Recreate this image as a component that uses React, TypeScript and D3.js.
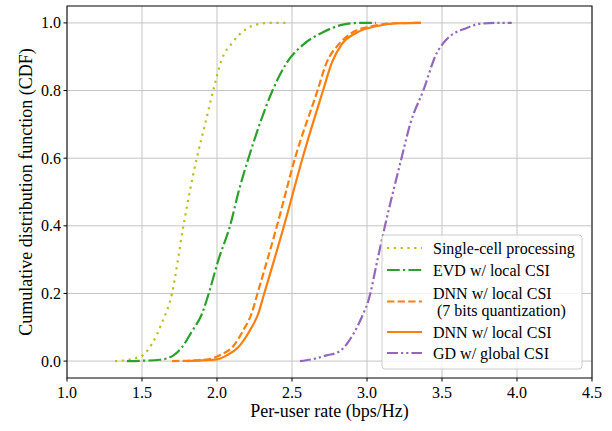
import React from "react";
import * as d3 from "d3";

const xTicks = [1.0, 1.5, 2.0, 2.5, 3.0, 3.5, 4.0, 4.5];
const yTicks = [0.0, 0.2, 0.4, 0.6, 0.8, 1.0];

const singleRate = [1.32, 1.40, 1.45, 1.505, 1.565, 1.63, 1.70, 1.776, 1.865, 1.92, 1.975, 2.03, 2.10, 2.175, 2.26, 2.35, 2.465];
const singleCdf = [0, 0.003, 0.008, 0.017, 0.05, 0.11, 0.2, 0.4, 0.6, 0.7, 0.8, 0.89, 0.94, 0.976, 0.995, 1.0, 1.0];

const evdRate = [1.40, 1.50, 1.62, 1.71, 1.765, 1.83, 1.90, 1.945, 2.01, 2.087, 2.147, 2.21, 2.287, 2.37, 2.465, 2.575, 2.70, 2.84, 2.95, 3.06];
const evdCdf = [0, 0.001, 0.004, 0.017, 0.04, 0.086, 0.14, 0.2, 0.3, 0.4, 0.506, 0.6, 0.704, 0.8, 0.882, 0.936, 0.971, 0.995, 1.0, 1.0];

const dnnQRate = [1.70, 1.85, 1.95, 2.03, 2.10, 2.175, 2.23, 2.27, 2.40, 2.52, 2.67, 2.73, 2.81, 2.90, 3.03, 3.20, 3.36];
const dnnQCdf = [0, 0.002, 0.006, 0.02, 0.04, 0.091, 0.14, 0.2, 0.4, 0.6, 0.8, 0.882, 0.936, 0.971, 0.99, 0.999, 1.0];

const dnnRate = [1.80, 1.90, 2.0, 2.065, 2.14, 2.22, 2.275, 2.315, 2.447, 2.57, 2.707, 2.765, 2.83, 2.93, 3.06, 3.20, 3.36];
const dnnCdf = [0, 0.002, 0.005, 0.017, 0.04, 0.091, 0.14, 0.2, 0.4, 0.6, 0.8, 0.882, 0.936, 0.971, 0.99, 0.999, 1.0];

const gdRate = [2.553, 2.65, 2.73, 2.81, 2.91, 2.975, 3.01, 3.07, 3.12, 3.23, 3.29, 3.375, 3.465, 3.53, 3.665, 3.75, 3.85, 3.965];
const gdCdf = [0, 0.007, 0.017, 0.027, 0.081, 0.14, 0.18, 0.3, 0.4, 0.6, 0.704, 0.8, 0.911, 0.951, 0.985, 0.997, 1.0, 1.0];

const seriesNames = [
  ["Single-cell processing"],
  ["EVD w/ local CSI"],
  ["DNN w/ local CSI", " (7 bits quantization)"],
  ["DNN w/ local CSI"],
  ["GD w/ global CSI"],
];

const series = [
  { rate: singleRate, cdf: singleCdf, color: "#bcbd22", dash: "2.2,4.6" },
  { rate: evdRate, cdf: evdCdf, color: "#2ca02c", dash: "12.8,3.2,2.2,3.2" },
  { rate: dnnQRate, cdf: dnnQCdf, color: "#ff7f0e", dash: "7.4,3.2" },
  { rate: dnnRate, cdf: dnnCdf, color: "#ff7f0e", dash: "none" },
  { rate: gdRate, cdf: gdCdf, color: "#9467bd", dash: "11,3,2.2,3,2.2,3" },
];

const W = 612, H = 431;
const L = 67, R = 592, T = 6, B = 378;
const font = "Liberation Serif";

export default function App() {
  const x = d3.scaleLinear().domain([1.0, 4.5]).range([L, R]);
  const y = d3.scaleLinear().domain([-0.05, 1.05]).range([B, T]);
  const line = d3
    .line<[number, number]>()
    .x((d) => x(d[0]))
    .y((d) => y(d[1]))
    .curve(d3.curveMonotoneX);

  const legX = 382, legY = 235, legW = 200, legH = 134;
  const entryY = [248, 270, 301.5, 332, 353];
  const textLines = [[248], [270], [293, 310], [332], [353]];
  const ts = { fontFamily: font } as React.CSSProperties;

  return (
    <div style={{ position: "absolute", left: 0, top: 0 }}>
      <svg width={W} height={H} style={{ display: "block", background: "#fff", fontFamily: font }}>
        <rect x={0} y={0} width={W} height={H} fill="#fff" />
        <g>
          {xTicks.map((t) => (
            <line key={"gx" + t} x1={x(t)} x2={x(t)} y1={T} y2={B} stroke="#c4c4c4" strokeWidth={1} />
          ))}
          {yTicks.map((t) => (
            <line key={"gy" + t} x1={L} x2={R} y1={y(t)} y2={y(t)} stroke="#c4c4c4" strokeWidth={1} />
          ))}
        </g>
        <defs>
          <clipPath id="plotclip">
            <rect x={L} y={T} width={R - L} height={B - T} />
          </clipPath>
        </defs>
        <g clipPath="url(#plotclip)">
          {series.map((s, i) => (
            <path
              key={i}
              d={line(s.rate.map((r, j) => [r, s.cdf[j]] as [number, number])) || ""}
              fill="none"
              stroke={s.color}
              strokeWidth={2.2}
              strokeDasharray={s.dash}
            />
          ))}
        </g>
        <rect x={L} y={T} width={R - L} height={B - T} fill="none" stroke="#000" strokeWidth={1} />
        {xTicks.map((t) => (
          <g key={"tx" + t}>
            <line x1={x(t)} x2={x(t)} y1={B} y2={B + 3.5} stroke="#000" strokeWidth={1} />
            <text x={x(t)} y={B + 20} textAnchor="middle" style={ts} fontSize={16} fill="#000">
              {t.toFixed(1)}
            </text>
          </g>
        ))}
        {yTicks.map((t) => (
          <g key={"ty" + t}>
            <line x1={L - 3.5} x2={L} y1={y(t)} y2={y(t)} stroke="#000" strokeWidth={1} />
            <text x={L - 6} y={y(t) + 5.5} textAnchor="end" style={ts} fontSize={16} fill="#000">
              {t.toFixed(1)}
            </text>
          </g>
        ))}
        <text x={(L + R) / 2} y={417} textAnchor="middle" style={ts} fontSize={18} fill="#000">
          Per-user rate (bps/Hz)
        </text>
        <text
          transform={`translate(32, ${(T + B) / 2}) rotate(-90)`}
          textAnchor="middle"
          style={ts}
          fontSize={18}
          fill="#000"
        >
          Cumulative distribution function (CDF)
        </text>
        <g>
          <rect x={legX} y={legY} width={legW} height={legH} rx={3} ry={3} fill="#fff" fillOpacity={0.8} stroke="#cccccc" strokeWidth={1} />
          {series.map((s, i) => (
            <g key={"leg" + i}>
              <line x1={387} x2={422} y1={entryY[i]} y2={entryY[i]} stroke={s.color} strokeWidth={2.2} strokeDasharray={s.dash} />
              {seriesNames[i].map((nm, k) => (
                <text key={k} x={433} y={textLines[i][k] + 5.5} style={{ ...ts, whiteSpace: "pre" }} fontSize={16} fill="#000">
                  {nm}
                </text>
              ))}
            </g>
          ))}
        </g>
      </svg>
    </div>
  );
}
